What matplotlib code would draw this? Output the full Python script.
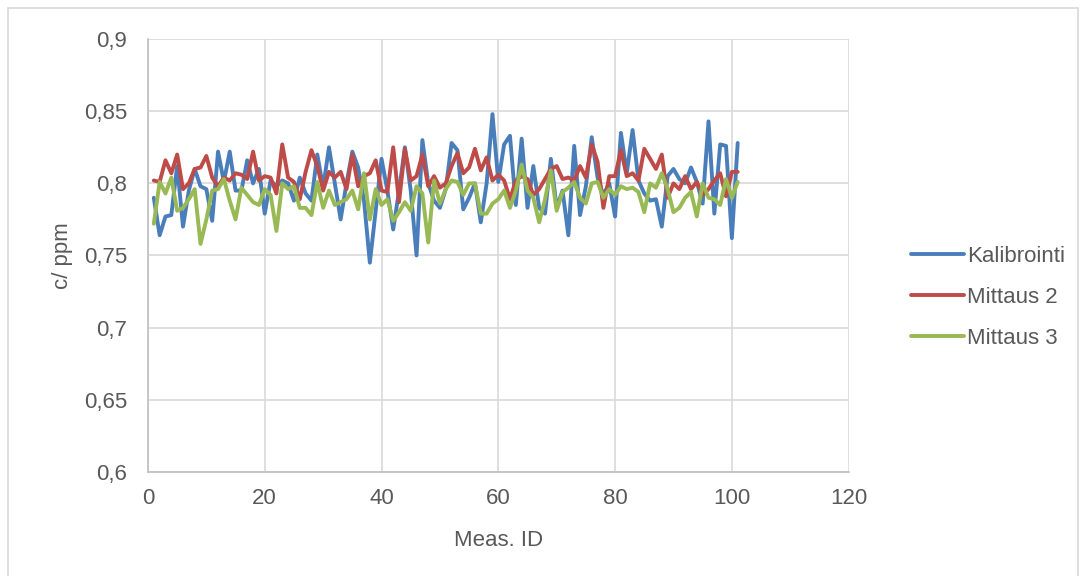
import matplotlib.pyplot as plt
from matplotlib.patches import Rectangle
from matplotlib.ticker import FuncFormatter, MultipleLocator

plt.rcParams["font.family"] = ["Liberation Sans", "DejaVu Sans"]

meas_id = list(range(1, 102))

kalibrointi = [
    0.790, 0.764, 0.777, 0.778, 0.812, 0.770, 0.795, 0.810, 0.798, 0.796,
    0.774, 0.822, 0.801, 0.822, 0.795, 0.795, 0.816, 0.800, 0.810, 0.779,
    0.802, 0.798, 0.802, 0.800, 0.788, 0.804, 0.793, 0.788, 0.820, 0.797,
    0.825, 0.800, 0.775, 0.800, 0.822, 0.811, 0.788, 0.745, 0.781, 0.817,
    0.795, 0.768, 0.795, 0.825, 0.795, 0.750, 0.830, 0.800, 0.788, 0.783,
    0.796, 0.828, 0.823, 0.782, 0.790, 0.800, 0.773, 0.800, 0.848, 0.801,
    0.827, 0.833, 0.785, 0.831, 0.783, 0.812, 0.783, 0.779, 0.817, 0.783,
    0.795, 0.764, 0.826, 0.778, 0.798, 0.832, 0.804, 0.792, 0.800, 0.777,
    0.835, 0.807, 0.837, 0.802, 0.793, 0.788, 0.789, 0.770, 0.805, 0.810,
    0.803, 0.800, 0.811, 0.801, 0.786, 0.843, 0.779, 0.827, 0.826, 0.762,
    0.828,
]

mittaus2 = [
    0.802, 0.801, 0.816, 0.807, 0.820, 0.796, 0.800, 0.810, 0.811, 0.819,
    0.804, 0.798, 0.804, 0.802, 0.807, 0.806, 0.803, 0.822, 0.802, 0.805,
    0.804, 0.793, 0.827, 0.804, 0.801, 0.789, 0.808, 0.823, 0.812, 0.795,
    0.808, 0.804, 0.808, 0.796, 0.820, 0.798, 0.805, 0.807, 0.816, 0.795,
    0.794, 0.825, 0.787, 0.824, 0.802, 0.805, 0.820, 0.798, 0.805, 0.797,
    0.800, 0.812, 0.821, 0.807, 0.811, 0.824, 0.809, 0.818, 0.802, 0.806,
    0.802, 0.789, 0.802, 0.805, 0.803, 0.792, 0.796, 0.803, 0.810, 0.812,
    0.803, 0.804, 0.802, 0.812, 0.804, 0.827, 0.815, 0.783, 0.805, 0.805,
    0.823, 0.805, 0.807, 0.802, 0.824, 0.817, 0.810, 0.820, 0.790, 0.800,
    0.796, 0.805, 0.796, 0.801, 0.792, 0.796, 0.802, 0.807, 0.791, 0.808,
    0.808,
]

mittaus3 = [
    0.772, 0.801, 0.793, 0.804, 0.781, 0.783, 0.789, 0.796, 0.758, 0.775,
    0.795, 0.796, 0.803, 0.788, 0.775, 0.797, 0.792, 0.787, 0.785, 0.796,
    0.792, 0.767, 0.800, 0.796, 0.798, 0.783, 0.783, 0.778, 0.801, 0.783,
    0.795, 0.785, 0.787, 0.789, 0.795, 0.782, 0.807, 0.775, 0.796, 0.785,
    0.789, 0.774, 0.780, 0.787, 0.781, 0.798, 0.793, 0.759, 0.802, 0.786,
    0.796, 0.802, 0.801, 0.792, 0.800, 0.800, 0.779, 0.779, 0.786, 0.789,
    0.795, 0.783, 0.795, 0.813, 0.795, 0.790, 0.773, 0.789, 0.809, 0.781,
    0.794, 0.797, 0.801, 0.790, 0.786, 0.800, 0.801, 0.790, 0.796, 0.792,
    0.798, 0.796, 0.797, 0.794, 0.780, 0.800, 0.797, 0.807, 0.796, 0.780,
    0.783, 0.790, 0.794, 0.777, 0.800, 0.790, 0.789, 0.785, 0.803, 0.790,
    0.801,
]

series = [
    ("Kalibrointi", kalibrointi, "#4a7ebb"),
    ("Mittaus 2", mittaus2, "#be4b48"),
    ("Mittaus 3", mittaus3, "#98b954"),
]

text_color = "#595959"
grid_color = "#d9d9d9"
fsize = 16

fig = plt.figure(figsize=(10.88, 5.76), dpi=100)
ax = fig.add_axes([0.136, 0.181, 0.644, 0.751])

for name, values, color in series:
    ax.plot(meas_id, values, color=color, lw=2.8, label=name,
            solid_joinstyle="round", solid_capstyle="round")

ax.set_xlim(0, 120)
ax.set_ylim(0.6, 0.9)
ax.xaxis.set_major_locator(MultipleLocator(20))
ax.yaxis.set_major_locator(MultipleLocator(0.05))
comma = FuncFormatter(lambda v, pos: "{:g}".format(round(v, 3)).replace(".", ","))
ax.xaxis.set_major_formatter(comma)
ax.yaxis.set_major_formatter(comma)

ax.grid(True, color=grid_color, lw=1.2)
ax.set_axisbelow(True)
for side in ["top", "right"]:
    ax.spines[side].set_visible(False)
for side in ["left", "bottom"]:
    ax.spines[side].set_color("#bfbfbf")
    ax.spines[side].set_linewidth(1.2)
ax.tick_params(axis="y", length=0, colors=text_color, labelsize=fsize, pad=15)
ax.tick_params(axis="x", length=0, colors=text_color, labelsize=fsize, pad=12)

ax.set_xlabel("Meas. ID", color=text_color, fontsize=fsize, labelpad=15)
ax.set_ylabel("c/ ppm", color=text_color, fontsize=fsize, labelpad=8)

fig.legend(loc="center left", bbox_to_anchor=(0.819, 0.484), frameon=False,
           fontsize=fsize, labelcolor=text_color, handlelength=2.4,
           handletextpad=0.1, labelspacing=0.9)

fig.patches.append(Rectangle((0.007, -0.01), 0.984, 0.996, transform=fig.transFigure,
                             fill=False, edgecolor=grid_color, lw=1.2))

fig.savefig("out.png", dpi=100)
